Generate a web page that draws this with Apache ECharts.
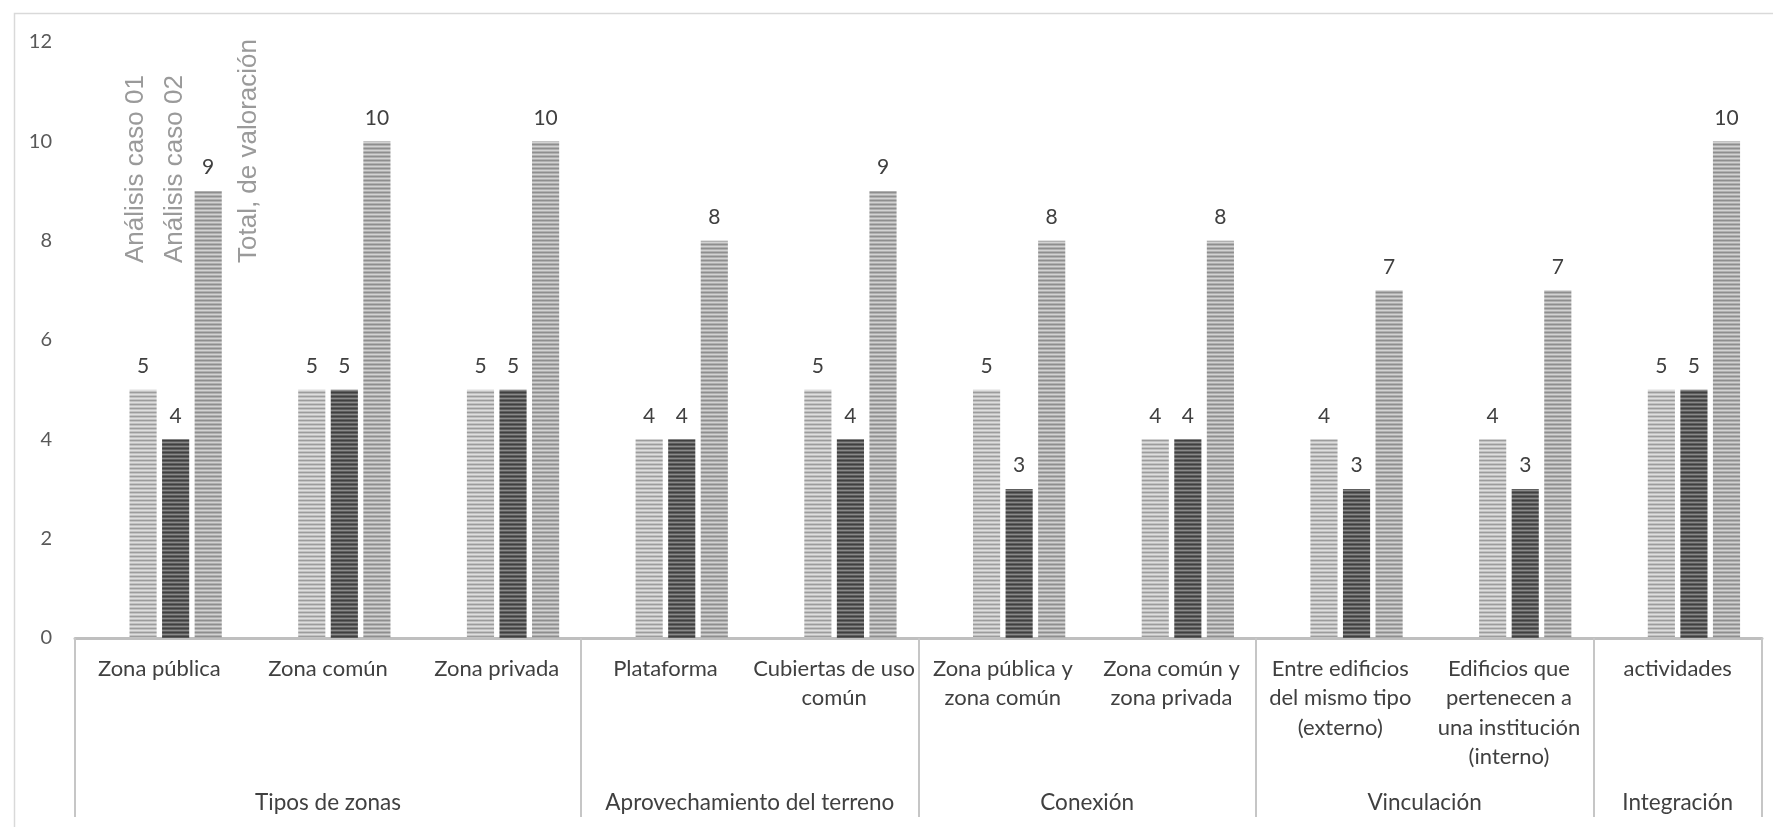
<!DOCTYPE html>
<html>
<head>
<meta charset="utf-8">
<script src="https://cdn.jsdelivr.net/npm/echarts@6/dist/echarts.min.js"></script>
<style>
  html, body { margin: 0; padding: 0; background: #ffffff; }
  #chart { width: 1773px; height: 827px; }
</style>
</head>
<body>
<div id="chart"></div>
<script>
// ---- data ----
const categories = [
  "Zona pública",
  "Zona común",
  "Zona privada",
  "Plataforma",
  "Cubiertas de uso\ncomún",
  "Zona pública y\nzona común",
  "Zona común y\nzona privada",
  "Entre edificios\ndel mismo tipo\n(externo)",
  "Edificios que\npertenecen a\nuna institución\n(interno)",
  "actividades"
];
const groups = ["Tipos de zonas", "Aprovechamiento del terreno", "Conexión", "Vinculación", "Integración"];
const groupSizes = [3, 2, 2, 2, 1];
const seriesNames = ["Análisis caso 01", "Análisis caso 02", "Total, de valoración"];
const caso01 = [5, 5, 5, 4, 5, 5, 4, 4, 4, 5];
const caso02 = [4, 5, 5, 4, 4, 3, 4, 3, 3, 5];
const total  = [9, 10, 10, 8, 9, 8, 8, 7, 7, 10];
const emptySeries = [null, null, null, null, null, null, null, null, null, null];
const yTicks = { min: 0, max: 12, interval: 2 };

// ---- helpers ----
function stripes(dark, light, mid) {
  const c = document.createElement('canvas');
  c.width = 4; c.height = 4;
  const g = c.getContext('2d');
  g.fillStyle = light; g.fillRect(0, 0, 4, 4);
  g.fillStyle = dark; g.fillRect(0, 0, 4, 1);
  g.fillStyle = mid; g.fillRect(0, 1, 4, 1); g.fillRect(0, 3, 4, 1);
  return { image: c, repeat: 'repeat' };
}

const groupStarts = [];
const groupMids = [];
let acc = 0;
groupSizes.forEach(s => { groupStarts.push(acc); groupMids.push(acc + s / 2); acc += s; });

const labelFont = 'Lato';
const chart = echarts.init(document.getElementById('chart'), null, { renderer: 'canvas' });

const dataLabel = {
  show: true,
  position: 'top',
  distance: 13,
  color: '#404040',
  fontSize: 21,
  fontFamily: labelFont
};

const patterns = [
  stripes('#9c9c9c', '#dedede', '#c2c2c2'),
  stripes('#3f3f3f', '#8a8a8a', '#5e5e5e'),
  stripes('#8e8e8e', '#d2d2d2', '#b0b0b0')
];

const option = {
  animation: false,
  backgroundColor: '#ffffff',
  grid: { left: 75, right: 11, top: 42, bottom: 189, containLabel: false },
  xAxis: [
    {
      type: 'category',
      data: categories,
      position: 'bottom',
      axisLine: { show: true, lineStyle: { color: '#bfbfbf', width: 3 } },
      axisTick: {
        show: true,
        length: 179,
        interval: function (idx) { return groupStarts.indexOf(idx) >= 0; },
        lineStyle: { color: '#c6c6c6', width: 2 }
      },
      axisLabel: {
        interval: 0,
        margin: 16,
        color: '#404040',
        fontSize: 22,
        fontFamily: labelFont,
        lineHeight: 29.5,
        align: 'center'
      },
      splitLine: { show: false }
    },
    {
      type: 'value',
      min: 0,
      max: categories.length,
      interval: 0.5,
      position: 'bottom',
      axisLine: { show: false },
      axisTick: { show: false },
      splitLine: { show: false },
      axisLabel: {
        margin: 154,
        color: '#404040',
        fontSize: 22.5,
        fontFamily: labelFont,
        lineHeight: 22,
        showMinLabel: true,
        showMaxLabel: true,
        formatter: function (v) {
          const i = groupMids.indexOf(v);
          return i >= 0 ? groups[i] : '';
        }
      }
    }
  ],
  yAxis: {
    type: 'value',
    min: yTicks.min,
    max: yTicks.max,
    interval: yTicks.interval,
    axisLine: { show: false },
    axisTick: { show: false },
    splitLine: { show: false },
    axisLabel: { color: '#595959', fontSize: 20, fontFamily: labelFont, margin: 23 }
  },
  series: [
    { name: '', type: 'bar', xAxisIndex: 0, data: emptySeries, barGap: '20%', barCategoryGap: '26%', silent: true },
    { name: seriesNames[0], type: 'bar', xAxisIndex: 0, data: caso01, barGap: '20%', barCategoryGap: '26%',
      itemStyle: { color: patterns[0] }, label: dataLabel },
    { name: seriesNames[1], type: 'bar', xAxisIndex: 0, data: caso02, barGap: '20%', barCategoryGap: '26%',
      itemStyle: { color: patterns[1] }, label: dataLabel },
    { name: seriesNames[2], type: 'bar', xAxisIndex: 0, data: total, barGap: '20%', barCategoryGap: '26%',
      itemStyle: { color: patterns[2] }, label: dataLabel }
  ],
  graphic: [
    { type: 'rect', left: 12, top: 11, z: -10, silent: true,
      shape: { width: 1800, height: 860 },
      style: { fill: 'none', stroke: '#d9d9d9', lineWidth: 1.5 } },
    { type: 'text', x: 136, y: 263, rotation: Math.PI / 2, silent: true,
      style: { text: seriesNames[0], fontSize: 26, fontFamily: '"Liberation Sans", Arial', fill: '#9a9a9a', align: 'left', verticalAlign: 'middle' } },
    { type: 'text', x: 175, y: 263, rotation: Math.PI / 2, silent: true,
      style: { text: seriesNames[1], fontSize: 26, fontFamily: '"Liberation Sans", Arial', fill: '#9a9a9a', align: 'left', verticalAlign: 'middle' } },
    { type: 'text', x: 249, y: 263, rotation: Math.PI / 2, silent: true,
      style: { text: seriesNames[2], fontSize: 26, fontFamily: '"Liberation Sans", Arial', fill: '#9a9a9a', align: 'left', verticalAlign: 'middle' } }
  ]
};

chart.setOption(option);
</script>
</body>
</html>
